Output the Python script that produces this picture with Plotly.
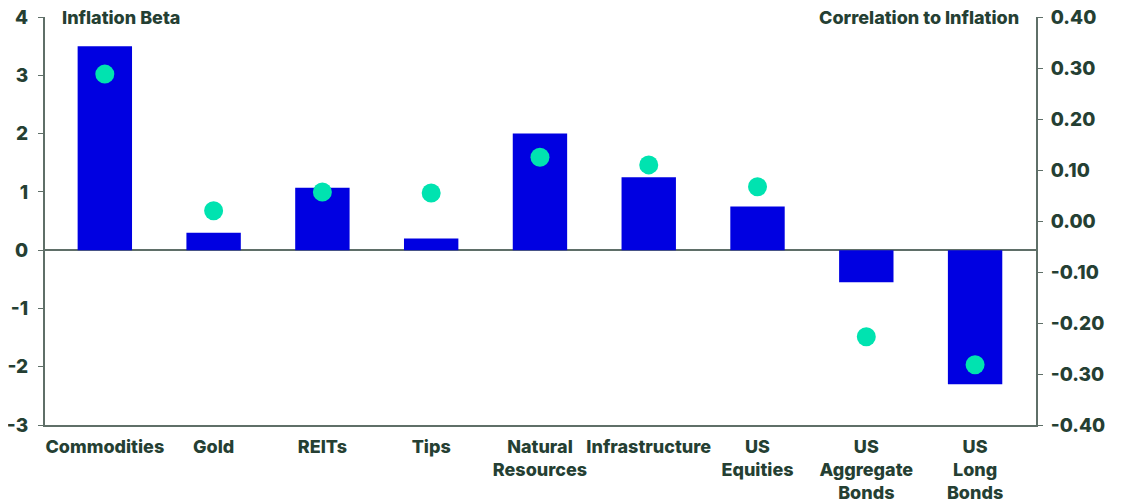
import plotly.graph_objects as go

categories = ["Commodities", "Gold", "REITs", "Tips", "Natural<br>Resources",
              "Infrastructure", "US<br>Equities", "US<br>Aggregate<br>Bonds", "US<br>Long<br>Bonds"]
inflation_beta = [3.5, 0.3, 1.07, 0.2, 2.0, 1.25, 0.75, -0.55, -2.3]
correlation = [0.288, 0.02, 0.057, 0.055, 0.125, 0.11, 0.067, -0.227, -0.282]

left_ticks = [-3, -2, -1, 0, 1, 2, 3, 4]
left_labels = ["-3", "-2", "-1", "0", "1", "2", "3", "4"]
right_ticks = [-0.4, -0.3, -0.2, -0.1, 0.0, 0.1, 0.2, 0.3, 0.4]
right_labels = ["-0.40", "-0.30", "-0.20", "-0.10", "0.00", "0.10", "0.20", "0.30", "0.40"]

TEXT = "#253f33"
AXIS = "#5f6f68"
FONT = "Inter"

fig = go.Figure()
fig.add_trace(go.Bar(x=categories, y=inflation_beta, width=0.5,
                     marker=dict(color="#0000e1", line=dict(width=0)),
                     name="Inflation Beta", yaxis="y"))
fig.add_trace(go.Scatter(x=categories, y=correlation, mode="markers",
                         marker=dict(color="#00e3b0", size=19),
                         name="Correlation to Inflation", yaxis="y2"))

fig.update_layout(
    width=1126, height=504,
    margin=dict(l=37, r=98, t=9, b=87),
    paper_bgcolor="white", plot_bgcolor="white",
    showlegend=False,
    font=dict(family=FONT, color=TEXT, size=18),
    xaxis=dict(type="category", range=[-0.55, 8.56], showline=True, linecolor=AXIS,
               linewidth=2, ticks="", showgrid=False, automargin=False,
               tickangle=0, ticklabelstandoff=4, ticklabeloverflow="allow",
               tickfont=dict(family=FONT, size=18, color=TEXT, weight=800)),
    yaxis=dict(range=[-3, 4], tickvals=left_ticks, ticktext=left_labels,
               showgrid=False, zeroline=True,
               zerolinecolor=AXIS, zerolinewidth=2, showline=True, linecolor=AXIS,
               linewidth=2, ticks="outside", ticklen=5, tickcolor=AXIS,
               automargin=False, ticklabelstandoff=6, ticklabeloverflow="allow",
               tickfont=dict(family=FONT, size=19, color=TEXT, weight=800)),
    yaxis2=dict(range=[-0.4, 0.4], tickvals=right_ticks, ticktext=right_labels,
                overlaying="y", side="right", showgrid=False, zeroline=False,
                showline=True, linecolor=AXIS, linewidth=2, ticks="outside",
                ticklen=5, tickcolor=AXIS, automargin=False, ticklabelstandoff=4,
                ticklabeloverflow="allow",
                tickfont=dict(family=FONT, size=19, color=TEXT, weight=800)),
)

fig.add_annotation(text="Inflation Beta", xref="paper", yref="paper", x=0.015, y=1.0,
                   xanchor="left", yanchor="middle", showarrow=False,
                   font=dict(family=FONT, size=18, color=TEXT, weight=800))
fig.add_annotation(text="Correlation to Inflation", xref="paper", yref="paper", x=0.985, y=1.0,
                   xanchor="right", yanchor="middle", showarrow=False,
                   font=dict(family=FONT, size=18, color=TEXT, weight=800))

fig.write_html("out.html")
